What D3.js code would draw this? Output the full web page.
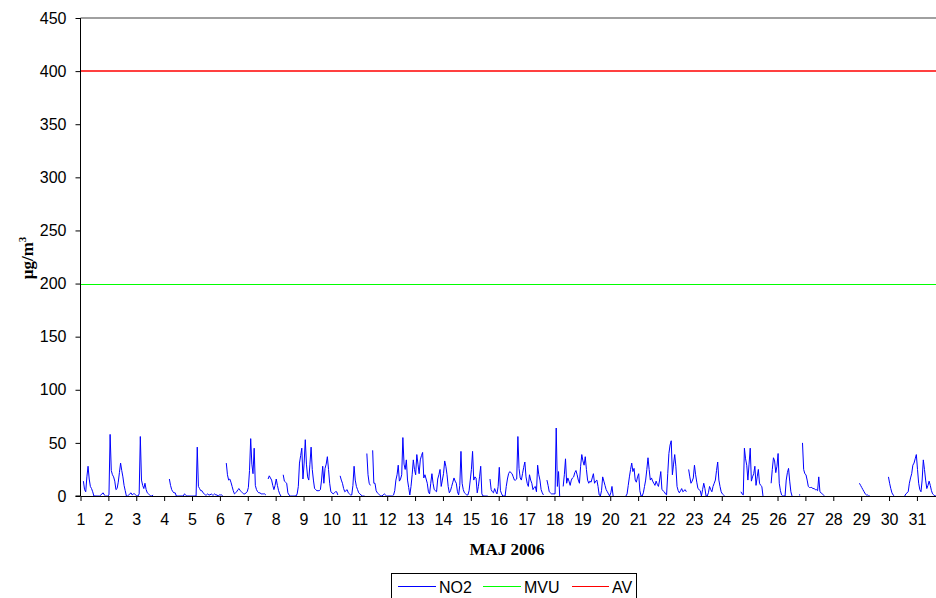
<!DOCTYPE html>
<html>
<head>
<meta charset="utf-8">
<script src="https://cdn.jsdelivr.net/npm/d3@7/dist/d3.min.js"></script>
<style>
  body { margin: 0; background: #fff; }
  svg { display: block; }
</style>
</head>
<body>
<div id="chart"></div>
<script>
// tick labels
const dayLabels = ["1","2","3","4","5","6","7","8","9","10","11","12","13","14","15","16",
    "17","18","19","20","21","22","23","24","25","26","27","28","29","30","31"];
const yTicks = [0, 50, 100, 150, 200, 250, 300, 350, 400, 450];

// hourly NO2, one row per day of May 2006 (null = no measurement)
const no2 = [
    null,null,14,6,4,18,28,16,9,7,4,0,0,0,0,0,0,1,2,3,1,0,0,0,
    1,58,24,20,18,14,6,7,13,22,31,24,18,10,5,0,0,1,2,3,1,2,2,1,
    0,0,2,56,15,10,7,12,6,3,2,1,0,0,1,null,null,null,null,null,null,null,null,null,
    null,null,null,null,16,10,6,4,3,3,0,0,0,0,0,0,0,2,1,0,0,0,0,0,
    0,0,0,0,46,9,7,5,5,3,2,1,1,2,1,1,2,1,1,2,1,1,0,1,
    1,1,0,null,null,31,20,15,16,13,9,5,2,3,4,6,7,5,4,3,2,2,3,4,
    8,24,54,30,21,45,10,6,4,3,3,2,2,2,2,1,null,16,19,17,15,10,6,10,
    16,10,5,2,0,null,20,14,13,12,3,1,0,0,0,0,0,0,2,9,31,38,45,16,
    31,53,30,18,15,30,46,25,15,7,6,5,5,5,6,15,28,12,26,30,37,25,12,4,
    3,2,3,4,4,1,null,19,15,12,7,4,5,6,3,2,1,1,10,28,15,9,6,3,
    2,1,0,0,0,null,40,20,12,10,null,43,12,12,5,3,2,1,0,0,1,2,1,0,
    0,0,0,0,0,1,5,15,20,29,14,16,20,55,30,25,34,15,8,1,9,20,34,25,
    20,39,30,21,34,38,41,17,20,16,12,4,2,12,21,12,6,5,4,16,20,25,9,15,
    21,33,28,20,9,3,5,9,13,17,14,12,4,1,10,42,12,6,3,2,1,1,5,15,
    25,42,15,18,17,3,9,18,28,2,0,0,0,0,0,null,16,6,4,3,7,4,2,9,
    27,5,2,0,0,0,9,16,21,23,22,21,18,15,15,16,56,26,17,15,21,27,32,18,
    12,9,20,15,12,6,8,9,4,29,20,15,6,3,1,null,null,15,10,4,3,2,2,2,
    2,64,9,23,0,null,null,9,20,35,12,17,14,10,15,17,18,22,24,20,15,12,28,39,
    33,29,37,25,15,12,14,13,17,21,12,14,15,9,1,0,5,18,14,10,6,4,2,0,
    3,9,0,null,null,null,null,null,null,null,null,null,null,0,2,10,18,25,31,23,26,15,13,18,
    21,5,0,0,3,9,15,25,36,25,15,17,14,12,10,14,11,9,15,23,6,5,4,2,
    1,21,40,48,52,20,30,39,28,9,5,3,5,7,4,5,6,4,null,25,18,12,14,17,
    29,20,13,7,6,5,0,6,12,7,0,0,3,9,6,4,9,12,15,24,32,15,9,4,
    2,1,0,null,null,null,null,null,null,null,null,null,null,null,null,null,4,2,1,45,35,29,15,30,
    45,14,18,21,28,10,18,25,12,10,9,0,null,null,null,null,null,null,12,25,36,33,22,28,
    40,12,5,1,0,0,0,15,22,26,14,4,0,null,null,null,null,null,1,1,null,50,25,21,
    20,15,9,8,8,8,7,7,6,6,5,18,4,3,2,1,0,null,null,null,null,null,null,null,
    null,null,null,null,null,null,null,null,null,null,null,null,null,null,null,null,null,null,null,null,null,null,12,10,
    8,6,4,2,1,1,0,0,null,null,null,null,null,null,null,null,null,null,null,null,null,null,null,18,
    12,7,3,1,0,null,null,null,null,null,null,null,null,0,2,3,4,12,17,21,29,31,35,39,
    25,12,6,4,15,34,25,15,7,10,14,10,5,2,1,0,0,0,0,0,0,0,0,0
];

// limit values
const mvuLimit = 200;
const avLimit = 400;

const seriesNames = ["NO2", "MVU", "AV"];
const seriesColors = ["#0000ff", "#00ff00", "#ff0000"];

const WIDTH = 936;
const HEIGHT = 598;
const PLOT_LEFT = 80.5;
const PLOT_TOP = 18;
const PLOT_BOTTOM = 496;
const HOUR_WIDTH = 1.1617;

const svg = d3.select("#chart")
    .append("svg")
    .attr("width", WIDTH)
    .attr("height", HEIGHT)
    .style("font-family", "Arial, 'Liberation Sans', sans-serif");

const x = d3.scaleLinear()
    .domain([0, no2.length])
    .range([PLOT_LEFT, PLOT_LEFT + no2.length * HOUR_WIDTH]);

const y = d3.scaleLinear()
    .domain([0, 450])
    .range([PLOT_BOTTOM, PLOT_TOP]);

svg.append("clipPath")
    .attr("id", "plot-clip")
    .append("rect")
    .attr("x", PLOT_LEFT)
    .attr("y", 0)
    .attr("width", WIDTH - PLOT_LEFT)
    .attr("height", PLOT_BOTTOM + 1);

// top border of the plot area
svg.append("line")
    .attr("x1", PLOT_LEFT).attr("x2", WIDTH)
    .attr("y1", y(450)).attr("y2", y(450))
    .attr("stroke", "#808080")
    .attr("stroke-width", 1.5);

const plot = svg.append("g").attr("clip-path", "url(#plot-clip)");

// limit lines, snapped to the pixel grid
[[mvuLimit, seriesColors[1], 1, 0.5], [avLimit, seriesColors[2], 1.4, 0]].forEach(([v, c, w, off]) => {
    const yy = Math.round(y(v)) + off;
    plot.append("line")
        .attr("x1", PLOT_LEFT).attr("x2", x(no2.length))
        .attr("y1", yy).attr("y2", yy)
        .attr("stroke", c)
        .attr("stroke-width", w);
});

// NO2 line
const line = d3.line()
    .defined(d => d != null)
    .x((d, i) => x(i + 0.5))
    .y(d => y(d));

plot.append("path")
    .datum(no2)
    .attr("d", line)
    .attr("fill", "none")
    .attr("stroke", seriesColors[0])
    .attr("stroke-width", 1);

// axes
const yAxis = svg.append("g")
    .attr("transform", `translate(${PLOT_LEFT},0)`)
    .call(d3.axisLeft(y).tickValues(yTicks).tickSize(5).tickPadding(9));

const xAxis = svg.append("g")
    .attr("transform", `translate(0,${PLOT_BOTTOM})`)
    .call(d3.axisBottom(x)
        .tickValues(dayLabels.map((d, i) => i * 24))
        .tickFormat((d, i) => dayLabels[i])
        .tickSize(5)
        .tickPadding(13)
        .tickSizeOuter(0));

[yAxis, xAxis].forEach(g => {
    g.select(".domain").attr("stroke", "#000");
    g.selectAll(".tick line").attr("stroke", "#000");
    g.selectAll(".tick text")
        .attr("fill", "#000")
        .style("font-family", "Arial, 'Liberation Sans', sans-serif")
        .style("font-size", "16px");
});
yAxis.select(".domain").attr("d", `M-5,${PLOT_BOTTOM}H0V${PLOT_TOP}`);

// axis titles
svg.append("text")
    .attr("x", 507)
    .attr("y", 555)
    .attr("text-anchor", "middle")
    .style("font-family", "'Times New Roman', 'Liberation Serif', serif")
    .style("font-weight", "bold")
    .style("font-size", "17px")
    .text("MAJ 2006");

const yTitle = svg.append("text")
    .attr("transform", "translate(33,258) rotate(-90)")
    .attr("text-anchor", "middle")
    .style("font-family", "'Times New Roman', 'Liberation Serif', serif")
    .style("font-weight", "bold")
    .style("font-size", "17px");
yTitle.append("tspan").text("µg/m");
yTitle.append("tspan").attr("dy", -7).style("font-size", "11px").text("3");

// legend
const legend = svg.append("g");
legend.append("rect")
    .attr("x", 391.5).attr("y", 573.5)
    .attr("width", 245).attr("height", 40)
    .attr("fill", "#fff")
    .attr("stroke", "#000");

const legendItems = [
    { name: seriesNames[0], color: seriesColors[0], x1: 398, x2: 436, tx: 439 },
    { name: seriesNames[1], color: seriesColors[1], x1: 483, x2: 521, tx: 524 },
    { name: seriesNames[2], color: seriesColors[2], x1: 572, x2: 609, tx: 612 }
];
legendItems.forEach(it => {
    legend.append("line")
        .attr("x1", it.x1).attr("x2", it.x2)
        .attr("y1", 586.5).attr("y2", 586.5)
        .attr("stroke", it.color);
    legend.append("text")
        .attr("x", it.tx).attr("y", 593)
        .style("font-size", "16px")
        .text(it.name);
});
</script>
</body>
</html>
